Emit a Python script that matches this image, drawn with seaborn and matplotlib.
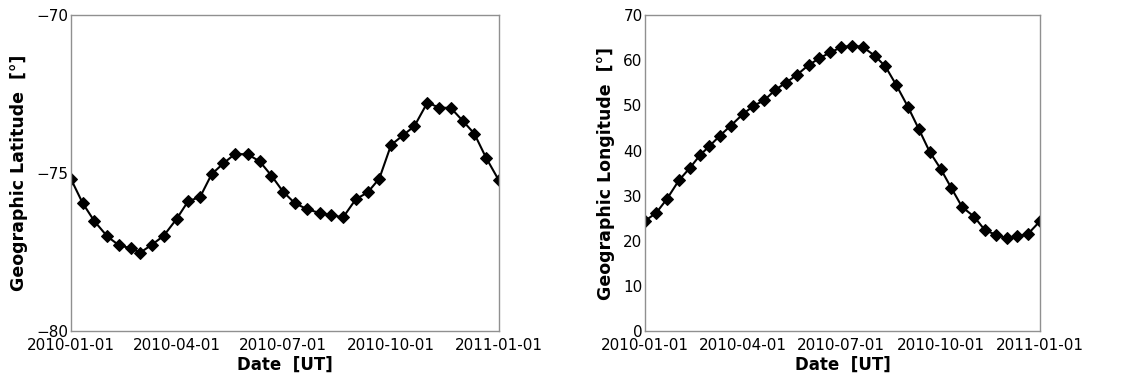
import matplotlib
matplotlib.use("Agg")
import matplotlib.dates as mdates
import matplotlib.pyplot as plt
import numpy as np
import pandas as pd
import seaborn as sns

# Sample dates: 1st, 11th and 21st of every month in 2010, plus 2011-01-01
dates = [
    "2010-01-01", "2010-01-11", "2010-01-21",
    "2010-02-01", "2010-02-11", "2010-02-21",
    "2010-03-01", "2010-03-11", "2010-03-21",
    "2010-04-01", "2010-04-11", "2010-04-21",
    "2010-05-01", "2010-05-11", "2010-05-21",
    "2010-06-01", "2010-06-11", "2010-06-21",
    "2010-07-01", "2010-07-11", "2010-07-21",
    "2010-08-01", "2010-08-11", "2010-08-21",
    "2010-09-01", "2010-09-11", "2010-09-21",
    "2010-10-01", "2010-10-11", "2010-10-21",
    "2010-11-01", "2010-11-11", "2010-11-21",
    "2010-12-01", "2010-12-11", "2010-12-21",
    "2011-01-01",
]

latitude = [
    -75.19, -75.95, -76.52, -77.00, -77.28, -77.37, -77.51, -77.26, -76.98,
    -76.45, -75.88, -75.76, -75.03, -74.69, -74.39, -74.41, -74.63, -75.08,
    -75.59, -75.95, -76.13, -76.26, -76.32, -76.40, -75.82, -75.61, -75.17,
    -74.11, -73.81, -73.51, -72.77, -72.93, -72.94, -73.34, -73.75, -74.51,
    -75.23,
]

longitude = [
    24.5, 26.2, 29.3, 33.4, 36.1, 39.1, 40.9, 43.3, 45.5,
    48.0, 49.9, 51.1, 53.4, 55.0, 56.7, 58.9, 60.4, 61.7,
    62.8, 63.2, 62.9, 61.0, 58.6, 54.5, 49.6, 44.7, 39.7,
    36.0, 31.7, 27.5, 25.4, 22.4, 21.4, 20.6, 21.0, 21.6,
    24.4,
]

df = pd.DataFrame({
    "date": pd.to_datetime(dates),
    "lat": latitude,
    "lon": longitude,
})

sns.set_style("white")
plt.rcParams["font.family"] = ["DejaVu Sans"]
plt.rcParams["text.color"] = "black"
plt.rcParams["axes.labelcolor"] = "black"

SPINE = "#909090"
TICKLABEL = 11
AXLABEL = 12

fig = plt.figure(figsize=(11.29, 3.81), dpi=100)
ax1 = fig.add_axes([0.0629, 0.130, 0.379, 0.831])
ax2 = fig.add_axes([0.5716, 0.130, 0.3496, 0.831])


def _style(ax, ylabel):
    for sp in ax.spines.values():
        sp.set_color(SPINE)
        sp.set_linewidth(1.0)
    ax.set_xlim(pd.Timestamp("2010-01-01"), pd.Timestamp("2011-01-01"))
    ax.xaxis.set_major_locator(mdates.MonthLocator(bymonth=[1, 4, 7, 10]))
    ax.xaxis.set_minor_locator(mdates.MonthLocator())
    ax.xaxis.set_major_formatter(mdates.DateFormatter("%Y-%m-%d"))
    ax.tick_params(axis="both", which="major", direction="in", length=5,
                   width=0.8, color="#444444", labelsize=TICKLABEL,
                   labelcolor="black", top=False, right=False)
    ax.tick_params(axis="x", which="major", pad=5)
    ax.tick_params(axis="y", which="major", pad=2)
    ax.tick_params(axis="x", which="minor", direction="in", length=5,
                   width=0.8, color="#444444", top=False)
    ax.tick_params(axis="y", which="minor", direction="in", length=3,
                   width=0.8, color="#444444", right=False)
    ax.set_xlabel("Date  [UT]", fontsize=AXLABEL, fontweight="bold", labelpad=2)
    ax.set_ylabel(ylabel, fontsize=12.5, fontweight="bold", labelpad=6)


sns.lineplot(data=df, x="date", y="lat", ax=ax1, color="black", linewidth=1.5,
             marker="D", markersize=6, markeredgecolor="black")
_style(ax1, "Geographic Latitude  [°]")
ax1.set_ylim(-80, -70)
ax1.set_yticks([-80, -75, -70])

sns.lineplot(data=df, x="date", y="lon", ax=ax2, color="black", linewidth=1.5,
             marker="D", markersize=6, markeredgecolor="black")
_style(ax2, "Geographic Longitude  [°]")
ax2.set_ylim(0, 70)
ax2.set_yticks(np.arange(0, 71, 10))
ax2.set_yticks(np.arange(5, 70, 10), minor=True)

fig.savefig("out.png", dpi=100)
